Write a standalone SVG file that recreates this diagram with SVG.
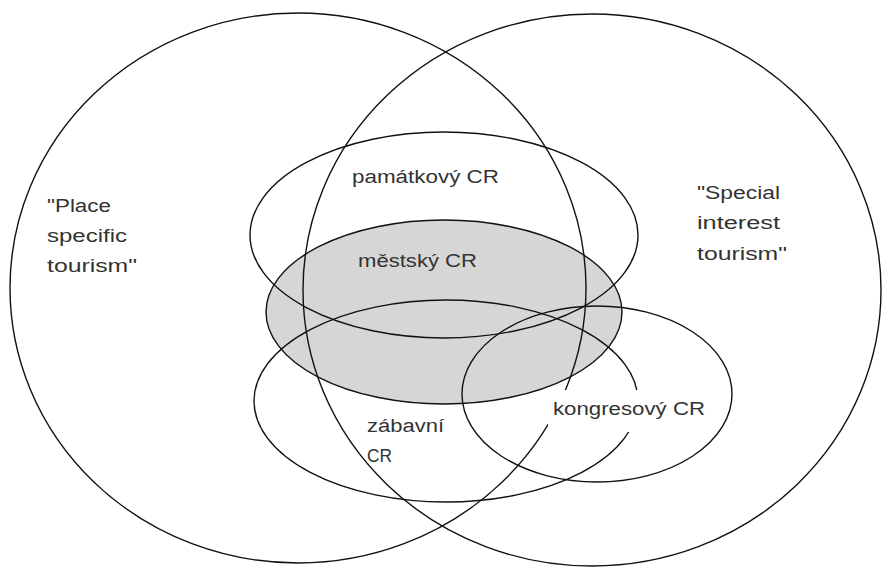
<svg xmlns="http://www.w3.org/2000/svg" width="883" height="568" viewBox="0 0 883 568">
<style>
.o{fill:none;stroke:#111;stroke-width:1.4}
.t{font-family:"Liberation Sans",Arial,sans-serif;font-size:18px;fill:#333}
</style>
<rect width="883" height="568" fill="#fff"/>
<g id="mestsky-fill"><ellipse cx="444" cy="312" rx="178" ry="92" fill="#d6d6d6"/></g>
<g id="connectors"></g>
<g id="place-specific"><ellipse class="o" cx="298" cy="288" rx="288" ry="275"/></g>
<g id="special-interest"><ellipse class="o" cx="592" cy="290" rx="289" ry="276"/></g>
<g id="pamatkovy"><ellipse class="o" cx="444" cy="235" rx="194" ry="103"/></g>
<g id="mestsky"><ellipse class="o" cx="444" cy="312" rx="178" ry="92"/></g>
<g id="zabavni"><ellipse class="o" cx="446" cy="401" rx="192" ry="101"/></g>
<g id="kongresovy"><ellipse class="o" cx="597" cy="394" rx="135" ry="88"/></g>
<g id="labels">
<text class="t" x="352" y="183" textLength="147" lengthAdjust="spacingAndGlyphs">památkový CR</text>
<text class="t" x="358" y="267" textLength="119" lengthAdjust="spacingAndGlyphs">městský CR</text>
<rect x="548" y="390" width="160" height="42" fill="#fff"/>
<text class="t" x="553" y="415" textLength="152" lengthAdjust="spacingAndGlyphs">kongresový CR</text>
<text class="t" x="367" y="432" textLength="77" lengthAdjust="spacingAndGlyphs">zábavní</text>
<text class="t" x="367" y="462" textLength="25" lengthAdjust="spacingAndGlyphs">CR</text>
<text class="t" x="47" y="212" textLength="64" lengthAdjust="spacingAndGlyphs">"Place</text>
<text class="t" x="47" y="242" textLength="80" lengthAdjust="spacingAndGlyphs">specific</text>
<text class="t" x="47" y="272" textLength="90" lengthAdjust="spacingAndGlyphs">tourism"</text>
<text class="t" x="697" y="199" textLength="83" lengthAdjust="spacingAndGlyphs">"Special</text>
<text class="t" x="697" y="229" textLength="83" lengthAdjust="spacingAndGlyphs">interest</text>
<text class="t" x="697" y="260" textLength="90" lengthAdjust="spacingAndGlyphs">tourism"</text>
</g>
</svg>
